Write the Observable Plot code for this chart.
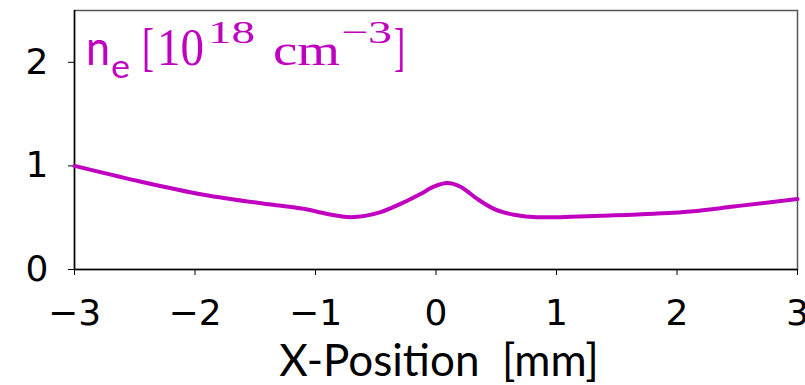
<!DOCTYPE html>
<html>
<head>
<meta charset="utf-8">
<script src="https://cdn.jsdelivr.net/npm/d3@7"></script>
<script src="https://cdn.jsdelivr.net/npm/@observablehq/plot@0.6"></script>
<style>
  html, body { margin: 0; padding: 0; background: #fff; }
</style>
</head>
<body>
<div id="chart"></div>
<script>
// Data
const xPos = [-3, -2.48, -1.93, -1.37, -1.10, -0.88, -0.71, -0.46, -0.295, -0.129, -0.018, 0.093, 0.203, 0.342, 0.48, 0.646, 0.84, 1.03, 1.36, 1.81, 2.14, 2.47, 3];
const neVal = [1.0, 0.856, 0.722, 0.627, 0.586, 0.531, 0.505, 0.553, 0.633, 0.729, 0.799, 0.834, 0.799, 0.681, 0.585, 0.528, 0.505, 0.505, 0.518, 0.538, 0.563, 0.608, 0.68];
const xTicks = [-3, -2, -1, 0, 1, 2, 3];
const yTicks = [0, 1, 2];
const xLabel = "X-Position  [mm]";

const data = xPos.map((x, i) => ({x, y: neVal[i]}));
const lineColor = "#c000c0";
const fmt = d => (d < 0 ? "\u2212" + (-d) : String(d));

const plot = Plot.plot({
  width: 805,
  height: 385,
  marginLeft: 74,
  marginRight: 8,
  marginTop: 10,
  marginBottom: 116,
  style: {fontFamily: "DejaVu Sans", fontSize: "36px", color: "#000", background: "#fff", overflow: "visible"},
  x: {domain: [-3, 3]},
  y: {domain: [0, 2.5]},
  marks: [
    Plot.frame({stroke: "#555", strokeWidth: 1.5}),
    Plot.ruleY([0], {stroke: "#000", strokeWidth: 1.5}),
    Plot.ruleX([-3], {stroke: "#000", strokeWidth: 1.5}),
    Plot.axisX({ticks: xTicks, tickFormat: fmt, tickSize: 6, tickPadding: 24, label: null, stroke: "#000"}),
    Plot.axisY({ticks: yTicks, tickFormat: fmt, tickSize: 6, tickPadding: 20, label: null, stroke: "#000"}),
    Plot.line(data, {x: "x", y: "y", stroke: lineColor, strokeWidth: 4, curve: "monotone-x"}),
    Plot.text([xLabel], {frameAnchor: "bottom", lineAnchor: "top", dy: 75, dx: 3, fontFamily: "Lato", fontSize: 44, fill: "#000"})
  ]
});

document.getElementById("chart").appendChild(plot);

// Annotation n_e [10^18 cm^-3] as real text with sub/superscripts
const svg = d3.select(plot.tagName === "svg" ? plot : plot.querySelector("svg"));
const ann = svg.append("g").attr("fill", lineColor).attr("text-anchor", "start");
const sans = "Lato, sans-serif";
const serif = "Liberation Serif, serif";
const pieces = [
  {t: "n", x: 86, w: 24, y: 65, s: 49, f: sans},
  {t: "e", x: 111, w: 19, y: 78, s: 33, f: sans},
  {t: "[", x: 142, w: 12, y: 65, s: 53, f: serif},
  {t: "10", x: 157, w: 47, y: 65, s: 53, f: serif},
  {t: "18", x: 208, w: 47, y: 43, s: 32, f: serif},
  {t: "cm", x: 273, w: 67, y: 65, s: 45, f: serif},
  {t: "\u22123", x: 341, w: 51, y: 43, s: 32, f: serif},
  {t: "]", x: 394, w: 11, y: 65, s: 53, f: serif}
];
ann.selectAll("text").data(pieces).join("text")
  .attr("x", d => d.x)
  .attr("y", d => d.y)
  .attr("textLength", d => d.w)
  .attr("lengthAdjust", "spacingAndGlyphs")
  .style("font-family", d => d.f)
  .style("font-size", d => d.s + "px")
  .text(d => d.t);
</script>
</body>
</html>
